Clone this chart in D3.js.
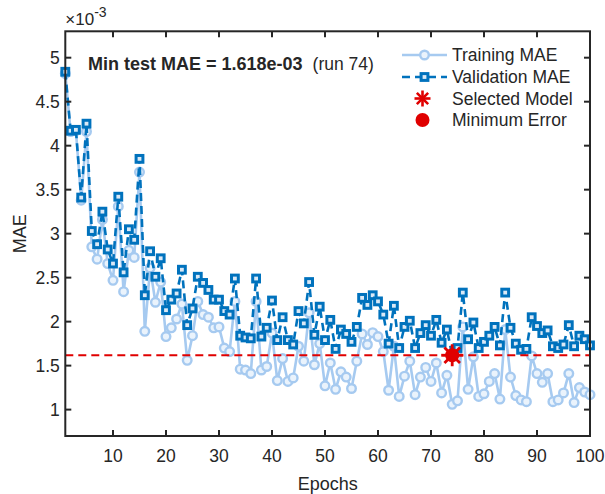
<!DOCTYPE html>
<html>
<head>
<meta charset="utf-8" />
<title>Training / validation MAE</title>
<style>
body { margin: 0; background: #fff; }
text { font-family: "Liberation Sans", Arial, sans-serif; fill: #262626; }
</style>
</head>
<body>
<div id="chart"></div>
<script src="https://cdnjs.cloudflare.com/ajax/libs/d3/7.8.5/d3.min.js"></script>
<script>
// values in units of 1e-3
var epochs = d3.range(1, 101)
var trainMAE = [4.82,4.16,4.17,3.38,4.16,2.85,2.71,3.16,2.66,2.47,
    3.31,2.34,2.81,2.73,3.70,1.89,2.61,2.22,2.45,1.83,
    1.93,2.03,2.20,1.56,1.84,2.23,2.08,2.05,1.93,1.94,
    1.70,1.66,2.23,1.46,1.45,1.41,2.23,1.45,1.49,1.87,
    1.33,1.58,1.32,1.36,1.72,1.55,2.10,1.51,1.75,1.27,
    1.53,1.23,1.43,1.37,1.24,1.55,1.86,1.74,1.875,1.83,
    1.66,1.22,1.72,1.15,1.38,1.55,1.17,1.37,1.48,1.32,
    1.53,1.19,1.39,1.06,1.10,1.94,1.23,1.60,1.15,1.18,
    1.32,1.41,1.12,1.91,1.37,1.16,1.11,1.09,1.61,1.41,
    1.31,1.41,1.09,1.11,1.19,1.41,1.08,1.25,1.20,1.17]
var valMAE = [4.84,4.17,4.18,3.41,4.25,3.03,2.88,3.25,2.82,2.66,
    3.42,2.56,3.05,2.93,3.85,2.30,2.80,2.51,2.72,2.13,
    2.25,2.32,2.59,1.96,2.15,2.51,2.44,2.36,2.25,2.25,
    2.12,2.08,2.49,1.84,1.82,1.81,2.49,1.83,1.93,2.24,
    1.79,2.05,1.79,1.74,2.12,1.98,2.45,1.85,2.17,1.79,
    2.02,1.69,1.91,1.86,1.77,1.94,2.27,2.19,2.30,2.23,
    2.08,1.75,2.18,1.70,1.94,2.01,1.70,1.87,1.96,1.84,
    2.02,1.76,1.91,1.618,1.70,2.33,1.80,1.99,1.70,1.77,
    1.84,1.94,1.73,2.33,1.93,1.75,1.68,1.69,2.05,1.95,
    1.87,1.90,1.72,1.70,1.74,1.96,1.72,1.84,1.80,1.73]
var bestRun = 74
var minMAE = 1.618
var xTicks = [10,20,30,40,50,60,70,80,90,100]
var yTicks = [1,1.5,2,2.5,3,3.5,4,4.5,5]
var legendLabels = ["Training MAE","Validation MAE","Selected Model","Minimum Error"]

!(function(){
    "use strict"

    var width = 605, height = 494
    var mLeft = 65.3, mRight = 590, mTop = 31.3, mBottom = 436

    var trainColor = "#a6caf0", valColor = "#0072bd", red = "#e00000", axisColor = "#262626"

    var svg = d3.select("#chart").append("svg")
        .attr("width", width).attr("height", height)

    var x = d3.scaleLinear().domain([1, 100]).range([mLeft, mRight])
    var y = d3.scaleLinear().domain([0.7, 5.3]).range([mBottom, mTop])

    var plot = svg.append("g")

    var train = epochs.map(function(e, i) { return [e, trainMAE[i]] })
    var val = epochs.map(function(e, i) { return [e, valMAE[i]] })
    var line = d3.line().x(function(d) { return x(d[0]) }).y(function(d) { return y(d[1]) })

    // training
    plot.append("path").datum(train)
        .attr("d", line).attr("fill", "none")
        .attr("stroke", trainColor).attr("stroke-width", 2.6)
    plot.append("g").selectAll("circle").data(train).enter().append("circle")
        .attr("cx", function(d) { return x(d[0]) })
        .attr("cy", function(d) { return y(d[1]) })
        .attr("r", 4.3)
        .attr("fill", "#eaf3fc").attr("stroke", trainColor).attr("stroke-width", 2.4)

    // validation
    plot.append("path").datum(val)
        .attr("d", line).attr("fill", "none")
        .attr("stroke", valColor).attr("stroke-width", 2.6)
        .attr("stroke-dasharray", "8,5")
    plot.append("g").selectAll("rect").data(val).enter().append("rect")
        .attr("x", function(d) { return x(d[0]) - 3.4 })
        .attr("y", function(d) { return y(d[1]) - 3.4 })
        .attr("width", 6.8).attr("height", 6.8)
        .attr("fill", "#dbe9f6").attr("stroke", valColor).attr("stroke-width", 3)

    // min line
    plot.append("line")
        .attr("x1", x(1)).attr("x2", x(100))
        .attr("y1", y(minMAE)).attr("y2", y(minMAE))
        .attr("stroke", red).attr("stroke-width", 2)
        .attr("stroke-dasharray", "8,5")

    function drawStar(g, cx, cy, r, w) {
        for (var k = 0; k < 4; k++) {
            var a = k * Math.PI / 4
            g.append("line")
                .attr("x1", cx - r * Math.cos(a)).attr("y1", cy - r * Math.sin(a))
                .attr("x2", cx + r * Math.cos(a)).attr("y2", cy + r * Math.sin(a))
                .attr("stroke", red).attr("stroke-width", w)
        }
    }

    // minimum point + selected model
    plot.append("circle")
        .attr("cx", x(bestRun)).attr("cy", y(minMAE)).attr("r", 7)
        .attr("fill", red)
    drawStar(plot, x(bestRun), y(minMAE), 11, 2.8)

    // axes box
    var axes = svg.append("g")
    axes.append("rect")
        .attr("x", mLeft).attr("y", mTop)
        .attr("width", mRight - mLeft).attr("height", mBottom - mTop)
        .attr("fill", "none").attr("stroke", axisColor).attr("stroke-width", 2)

    var tl = 6
    xTicks.forEach(function(t) {
        axes.append("line").attr("x1", x(t)).attr("x2", x(t))
            .attr("y1", mBottom).attr("y2", mBottom - tl)
            .attr("stroke", axisColor).attr("stroke-width", 2)
        axes.append("line").attr("x1", x(t)).attr("x2", x(t))
            .attr("y1", mTop).attr("y2", mTop + tl)
            .attr("stroke", axisColor).attr("stroke-width", 2)
        axes.append("text").attr("x", x(t)).attr("y", mBottom + 26)
            .attr("text-anchor", "middle").style("font-size", "17.5px")
            .text(t)
    })
    yTicks.forEach(function(t) {
        axes.append("line").attr("x1", mLeft).attr("x2", mLeft + tl)
            .attr("y1", y(t)).attr("y2", y(t))
            .attr("stroke", axisColor).attr("stroke-width", 2)
        axes.append("line").attr("x1", mRight).attr("x2", mRight - tl)
            .attr("y1", y(t)).attr("y2", y(t))
            .attr("stroke", axisColor).attr("stroke-width", 2)
        axes.append("text").attr("x", mLeft - 5.5).attr("y", y(t) + 6)
            .attr("text-anchor", "end").style("font-size", "17.5px")
            .text(t)
    })

    // exponent label
    var ex = axes.append("text").attr("x", mLeft).attr("y", 25).style("font-size", "17px")
    ex.append("tspan").text("\u00d710")
    ex.append("tspan").attr("dy", -8).style("font-size", "14px").text("-3")

    // axis titles
    svg.append("text").attr("x", (mLeft + mRight) / 2).attr("y", 490)
        .attr("text-anchor", "middle").style("font-size", "18px").text("Epochs")
    svg.append("text").attr("transform", "translate(26," + ((mTop + mBottom) / 2) + ") rotate(-90)")
        .attr("text-anchor", "middle").style("font-size", "18px").text("MAE")

    // annotation
    var ann = svg.append("text").attr("x", 88).attr("y", 70).style("font-size", "18px")
    ann.append("tspan").style("font-weight", "bold")
        .text("Min test MAE = " + d3.format(".3e")(minMAE / 1000).replace("e-3", "e-03"))
    ann.append("tspan").attr("dx", 10).style("font-size", "17.5px").text("(run " + bestRun + ")")

    // legend
    var lg = svg.append("g")
    var rows = [55, 77, 98.5, 120]
    var lx0 = 402, lx1 = 447, lmid = 424.5
    lg.append("line").attr("x1", lx0).attr("x2", lx1).attr("y1", rows[0]).attr("y2", rows[0])
        .attr("stroke", trainColor).attr("stroke-width", 2.6)
    lg.append("circle").attr("cx", lmid).attr("cy", rows[0]).attr("r", 4.3)
        .attr("fill", "#eaf3fc").attr("stroke", trainColor).attr("stroke-width", 2.4)
    lg.append("line").attr("x1", lx0).attr("x2", lx1).attr("y1", rows[1]).attr("y2", rows[1])
        .attr("stroke", valColor).attr("stroke-width", 2.6).attr("stroke-dasharray", "8,5")
    lg.append("rect").attr("x", lmid - 3.4).attr("y", rows[1] - 3.4).attr("width", 6.8).attr("height", 6.8)
        .attr("fill", "#dbe9f6").attr("stroke", valColor).attr("stroke-width", 3)
    drawStar(lg, lmid - 2, rows[2], 8, 2.6)
    lg.append("circle").attr("cx", lmid - 2).attr("cy", rows[3]).attr("r", 7).attr("fill", red)
    legendLabels.forEach(function(s, i) {
        lg.append("text").attr("x", 452).attr("y", rows[i] + 6)
            .style("font-size", "17.5px").text(s)
    })
}());
</script>
</body>
</html>
